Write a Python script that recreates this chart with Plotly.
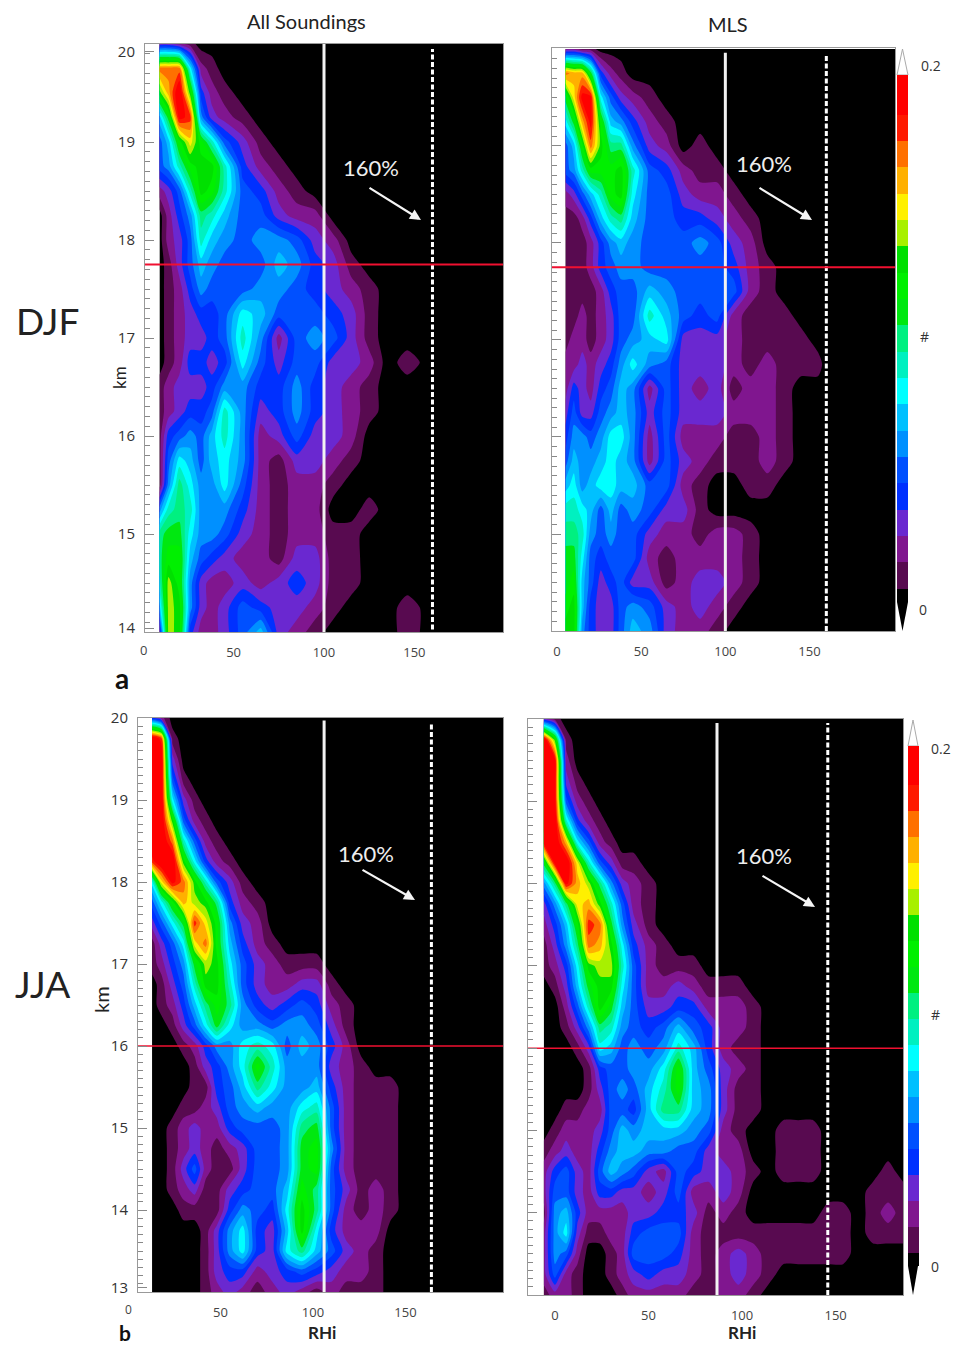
import plotly.graph_objects as go

W, H = 961, 1345
LEVEL_COLORS = ["#000000", "#580a50", "#80168f", "#6a28d0", "#0030ff", "#0050ff", "#0090ff", "#00c0ff",
                "#00ffff", "#00f0c0", "#00f080", "#00e810", "#00f000", "#00e000", "#a8f000", "#fff000",
                "#ffb000", "#ff7000", "#ff1a00", "#ff0000", "#ff0000"]

x_a = [9,14,20,26,32,38,45,55,65,75,85,95,105,115,125,135,146,160,199]
km_a = [20,19.75,19.5,19.25,19,18.75,18.5,18.25,18,17.75,17.5,17.25,17,16.75,16.5,16.25,16,15.75,15.5,15.25,15,14.75,14.5,14.25,14]
lev_a = [
[3,3,2,1,0],
[17,17,17,8,2,1,0],
[13,16,20,13,4,2,1,0],
[7,11,19,18,6,3,2,1,0],
[5,7,12,15,12,9,5,3,1,0],
[5,6,9,12,13,13,9,4,2,1,0],
[2,3,5,9,13,12,9,5,4,2,1,0],
[0,2,4,6,10,9,7,5,5,3,2,2,0],
[0,2,3,5,9,7,6,5,6,6,5,3,2,0],
[0,1,3,5,7,6,5,5,5,7,6,4,3,1,0],
[0,1,2,4,6,5,5,5,6,6,5,4,3,2,1,0],
[0,1,2,3,4,4,5,8,7,5,5,5,4,3,1,0],
[0,1,2,3,3,4,5,9,6,2,5,6,5,3,1,0],
[0,1,2,4,4,3,4,8,5,3,5,5,3,3,2,0,1,0],
[1,2,3,3,3,4,6,6,4,4,6,4,3,2,1,0],
[1,2,3,4,4,5,9,6,3,4,6,4,3,2,1,0],
[1,4,5,6,5,7,9,6,2,3,5,3,3,2,0],
[1,5,8,7,5,7,8,6,2,1,3,3,2,1,0],
[1,6,10,8,6,6,8,5,2,1,2,2,1,0],
[6,9,10,9,6,6,6,4,2,1,2,2,0,0,1,0],
[10,11,11,8,6,6,5,3,2,1,2,2,1,1,0],
[10,12,12,7,5,4,3,2,2,1,3,3,1,1,0],
[9,14,12,6,3,2,2,3,2,3,4,3,1,1,0],
[7,14,13,6,3,2,3,5,4,3,3,2,1,0,0,0,1,0],
[3,14,13,4,2,2,3,5,7,3,2,1,0,0,0,0,1,0],
]

x_b = [5,10,15,20,26,32,38,45,55,65,75,85,95,105,115,125,135,145,155,160,201]
km_b = km_a
lev_b = [
[2,2,1,1,0],
[17,16,16,11,4,2,1,0],
[11,15,19,19,8,5,3,2,1,0],
[8,11,16,19,12,7,6,4,2,1,0],
[5,7,12,17,13,10,10,6,3,2,0,1,0],
[5,6,9,12,12,12,13,9,5,4,2,1,1,0],
[2,3,5,7,9,12,13,8,5,5,3,2,2,1,0],
[1,1,2,4,7,9,10,7,5,5,4,4,3,2,1,0],
[1,1,1,2,4,6,7,6,5,5,5,6,5,3,2,0],
[1,1,1,2,4,5,6,6,5,5,5,5,5,4,2,1,0],
[1,1,1,1,2,4,5,5,7,6,5,5,5,5,2,1,0],
[1,1,2,1,2,3,5,5,9,7,5,4,5,2,1,1,1,0],
[1,2,2,1,2,3,5,6,7,8,3,3,3,2,1,1,1,1,0],
[2,2,3,2,3,4,6,8,6,5,3,3,3,2,1,2,1,1,1,0],
[2,4,3,2,4,5,7,6,2,5,3,2,3,1,2,2,1,0],
[3,5,3,3,5,6,7,6,3,5,3,3,3,2,2,2,1,0],
[4,6,6,5,6,8,8,6,2,5,2,2,2,1,1,2,1,0],
[5,7,6,6,7,8,7,6,2,5,3,2,1,1,1,2,1,0],
[7,8,6,7,8,8,7,7,5,5,2,1,0,0,1,1,0],
[9,9,8,7,5,7,5,6,5,3,3,1,0],
[10,10,9,6,5,6,5,5,3,2,2,1,2,2,1,0],
[11,11,8,5,4,5,5,5,2,1,2,2,2,2,1,0],
[11,12,7,5,3,4,5,3,3,1,2,3,3,2,1,0],
[12,13,7,4,3,3,5,6,5,3,2,3,2,1,0],
[13,13,6,4,3,3,5,7,6,3,2,2,1,0],
]

x_c = [13,18,24,30,36,42,48,55,62,70,78,86,94,102,110,118,126,134,142,150,203]
km_c = [20,19.75,19.5,19.25,19,18.75,18.5,18.25,18,17.75,17.5,17.25,17,16.75,16.5,16.25,16,15.75,15.5,15.25,15,14.75,14.5,14.25,14,13.75,13.5,13.25,13]
lev_c = [
[4,2,0],
[20,18,1,0],
[20,20,3,0],
[20,20,5,1,0],
[20,20,8,3,1,0],
[20,20,13,5,2,1,0],
[20,20,17,9,5,2,1,0],
[18,20,20,13,8,4,2,1,0],
[8,15,19,17,13,9,5,3,1,0],
[5,8,12,16,14,13,10,4,2,1,0],
[3,5,8,11,18,15,12,6,3,2,0],
[1,3,5,8,15,17,12,7,4,2,1,0],
[1,2,4,6,11,14,13,8,5,3,2,1,1,1,0],
[0,1,3,5,9,13,13,9,5,3,2,2,3,3,1,0],
[0,1,2,4,7,10,12,10,6,4,3,4,5,4,2,1,0],
[0,0,1,3,5,8,11,8,6,6,5,6,6,5,3,1,0],
[0,0,0,1,2,4,6,6,8,9,8,5,7,6,4,2,0],
[0,0,0,0,1,3,4,6,8,12,9,6,6,6,3,2,1,0],
[0,0,0,0,1,1,4,5,7,10,8,6,6,7,4,2,1,1,1,0],
[0,0,0,1,1,2,3,5,6,7,6,6,8,9,5,2,1,1,1,0],
[0,0,1,2,3,2,2,4,5,5,5,6,10,11,5,2,1,1,1,0],
[0,0,1,2,3,2,1,2,3,5,5,6,11,12,6,2,1,1,1,0],
[0,0,1,3,5,2,1,1,3,5,5,6,11,12,5,2,1,1,1,0],
[0,0,1,2,3,1,1,3,4,5,5,7,12,10,5,3,1,2,1,0],
[0,0,0,1,1,1,1,4,6,5,4,8,13,10,5,2,1,2,1,0],
[0,0,0,0,0,1,3,6,8,4,3,7,13,8,4,2,2,2,0],
[0,0,0,0,0,1,3,6,8,4,3,8,10,7,5,3,2,1,0],
[0,0,0,0,0,1,3,4,4,2,3,4,5,4,3,2,2,1,0],
[0,0,0,0,0,1,2,3,2,1,2,3,2,1,2,1,1,1,0],
]

x_d = [-6,0,6,12,18,24,30,36,42,50,58,66,74,82,90,98,106,114,122,130,138,146,154,162,170,178,186]
km_d = km_c
lev_d = [
[3,1,0],
[20,13,1,0],
[20,19,2,0],
[20,19,3,1,0],
[20,19,5,2,1,0],
[20,20,9,4,2,1,0],
[19,20,16,8,5,2,1,0],
[11,19,20,15,9,5,3,1,1,0],
[6,10,19,16,14,10,6,3,2,1,0],
[3,6,10,15,16,13,9,5,2,1,0],
[2,4,7,12,18,17,11,6,3,1,0],
[1,3,6,10,17,16,13,8,4,2,1,0],
[1,2,4,8,13,14,14,9,5,2,1,1,1,0],
[0,1,3,7,11,13,13,8,5,2,2,3,2,1,1,1,0],
[0,0,2,5,9,13,11,7,5,3,3,4,4,2,2,2,1,0],
[0,0,1,3,6,10,9,6,5,4,5,7,5,4,2,2,1,0],
[0,0,0,1,3,8,7,5,6,5,6,9,7,4,2,1,1,0],
[0,0,0,0,1,4,5,5,6,6,8,12,7,5,3,2,1,0],
[0,0,0,0,1,3,5,6,5,7,9,12,7,6,3,1,1,0],
[0,0,1,1,2,2,5,5,4,7,10,10,7,6,3,1,1,0],
[0,1,2,2,2,3,5,7,6,7,7,7,6,5,2,1,0,0,1,1,1,0],
[1,2,3,2,2,4,6,7,7,6,6,5,5,3,2,2,0,0,1,1,1,0],
[2,4,5,3,2,5,7,6,5,3,2,5,4,3,3,2,1,0,1,1,1,0,0,0,0,1,0],
[2,5,5,3,2,4,4,3,3,2,3,5,2,2,3,2,0,0,0,0,0,0,0,0,1,1,1],
[1,6,7,4,2,2,2,2,3,3,4,4,3,1,2,1,0,0,0,0,0,1,1,0,1,2,1],
[2,6,8,3,1,1,2,2,4,5,5,5,2,1,1,1,1,1,1,1,1,1,1,0,1,1,1],
[2,6,5,2,0,0,1,2,5,5,5,4,2,1,2,3,2,1,1,1,1,1,1,0,0,0,0],
[2,5,2,1,0,0,1,2,3,4,3,3,2,1,2,3,2,1,0],
[1,2,2,1,0,0,0,1,2,2,2,2,1,1,2,2,1,0],
]

rhi_solid = {"a": 100, "b": 100, "c": 106, "d": 86.6}
rhi_dash = {"a": 160, "b": 160, "c": 164, "d": 145.8}
red_km = {"a": 17.75, "b": 17.75, "c": 16, "d": 16}
red_width = {"a": 2, "b": 2, "c": 1.5, "d": 1.5}
x_ticks = [0, 50, 100, 150]

panels = [
    dict(k="a", x=x_a, km=km_a, lev=lev_a, frame=(145, 503, 44, 632), xr=(1, 199), yr=(14, 20),
         ytv=[14.04, 15, 16, 17, 18, 19, 19.92], ytt=["14", "15", "16", "17", "18", "19", "20"], line_km=(14, 20), dash_km=(13.95, 19.95)),
    dict(k="b", x=x_b, km=km_b, lev=lev_b, frame=(552, 895, 48, 631), xr=(-3, 200.8), yr=(14, 20.01),
         ytv=[14, 15, 16, 17, 18, 19, 20], ytt=None, line_km=(14, 19.96), dash_km=(14, 19.95)),
    dict(k="c", x=x_c, km=km_c, lev=lev_c, frame=(138, 503, 718, 1292), xr=(5.4, 202.7), yr=(13, 20),
         ytv=[13.05, 14, 15, 16, 17, 18, 19, 20], ytt=["13", "14", "15", "16", "17", "18", "19", "20"], line_km=(13, 19.97), dash_km=(13, 19.95)),
    dict(k="d", x=x_d, km=km_d, lev=lev_d, frame=(528, 903, 719, 1295), xr=(-14.4, 186), yr=(13, 20),
         ytv=[13, 14, 15, 16, 17, 18, 19, 20], ytt=None, line_km=(13, 19.95), dash_km=(13, 19.95)),
]

n = len(LEVEL_COLORS) - 1
scale = [[i / n, c] for i, c in enumerate(LEVEL_COLORS)]

def px(x): return x / W
def py(y): return 1 - y / H

fig = go.Figure()
layout = dict(width=W, height=H, margin=dict(l=0, r=0, t=0, b=0, autoexpand=False), paper_bgcolor="white",
              plot_bgcolor="white", showlegend=False, autosize=False, font=dict(family="Open Sans", color="#333333"))
anns = []
shapes = []
FONT = "Open Sans"

for i, p in enumerate(panels, start=1):
    sfx = "" if i == 1 else str(i)
    xa, ya = "x" + sfx, "y" + sfx
    x0, x1, y0, y1 = p["frame"]
    width = len(p["x"])
    z = [[v / 100 for v in (r + [0] * (width - len(r)))] for r in p["lev"]][::-1]
    cb = None
    if p["k"] in ("b", "d"):
        cb = dict(x=(897 if p["k"] == "b" else 908) / W, xanchor="left", thickness=11, thicknessmode="pixels",
                  len=527 if p["k"] == "b" else 520, lenmode="pixels",
                  y=py(75 if p["k"] == "b" else 746), yanchor="top", ypad=0, xpad=0, outlinewidth=0,
                  showticklabels=False, ticks="")
    fig.add_trace(go.Contour(
        x=p["x"], y=p["km"][::-1], z=z, xaxis=xa, yaxis=ya,
        colorscale=scale, autocontour=False,
        contours=dict(start=0.005, end=0.195, size=0.01, coloring="fill", showlines=False),
        line=dict(width=0, smoothing=0.7), showscale=cb is not None, colorbar=cb,
    ))
    s, dk = rhi_solid[p["k"]], rhi_dash[p["k"]]
    fig.add_trace(go.Scatter(x=[s, s], y=list(p["line_km"]), mode="lines", xaxis=xa, yaxis=ya,
                             line=dict(color="#f2f2f2", width=3)))
    fig.add_trace(go.Scatter(x=[dk, dk], y=list(p["dash_km"]), mode="lines", xaxis=xa, yaxis=ya,
                             line=dict(color="white", width=3, dash="5px,2.5px")))
    fig.add_trace(go.Scatter(x=list(p["xr"]), y=[red_km[p["k"]]] * 2, mode="lines", xaxis=xa, yaxis=ya,
                             line=dict(color="#f01030", width=red_width[p["k"]])))
    layout["xaxis" + sfx] = dict(domain=[px(x0), px(x1)], range=list(p["xr"]), anchor=ya, tickmode="array",
                                 tickvals=x_ticks, ticktext=[str(t) for t in x_ticks], ticks="", showgrid=False,
                                 zeroline=False, showline=True, mirror=True, linecolor="#999999", linewidth=1,
                                 tickfont=dict(family=FONT, size=13, color="#444444"), ticklabelstandoff=8)
    yax = dict(domain=[py(y1), py(y0)], range=list(p["yr"]), anchor=xa, tickmode="array", tickvals=p["ytv"],
               ticks="inside", ticklen=9, tickcolor="#888888", showgrid=False, zeroline=False, showline=True,
               mirror=True, linecolor="#999999", linewidth=1,
               minor=dict(tickmode="linear", tick0=13, dtick=0.1, ticks="inside", ticklen=5, tickcolor="#888888", showgrid=False))
    if p["ytt"]:
        yax.update(ticktext=p["ytt"], tickfont=dict(family=FONT, size=15, color="#333333"), ticklabelstandoff=6)
    else:
        yax.update(showticklabels=False)
    layout["yaxis" + sfx] = yax

def text(t, x, y, size, color="#222222", bold=False, angle=0, family="Lato"):
    anns.append(dict(text=f"<b>{t}</b>" if bold else t, x=px(x), y=py(y), xref="paper", yref="paper", showarrow=False,
                     xanchor="center", yanchor="middle", textangle=angle, borderpad=0,
                     font=dict(family=family, size=size, color=color)))

text("All Soundings", 306, 21, 20)
text("MLS", 728, 24, 20)
text("DJF", 47, 320, 37)
text("JJA", 42, 983, 37)
text("a", 122, 678, 28, "#111111", True)
text("b", 125, 1332, 21, "#111111", True)
text("km", 120, 378, 17, angle=-90)
text("km", 101, 1000, 20, angle=-90)
text("RHi", 322, 1332, 17, bold=True)
text("RHi", 742, 1332, 17, bold=True)
text("0", 128, 1309, 12, "#444444", family=FONT)
text("0", 143, 650, 13, "#444444", family=FONT)
for x, y in [(371, 167), (764, 163), (366, 853), (764, 855)]:
    text("160%", x, y, 22, "#eeeeee")
for (x_s, y_s, x_e, y_e) in [(368, 187, 421, 220), (758, 187, 812, 220), (361, 869, 415, 900), (761, 875, 815, 907)]:
    anns.append(dict(x=px(x_e), y=py(y_e), xref="paper", yref="paper", ax=x_s - x_e, ay=y_s - y_e, text="",
                     showarrow=True, arrowhead=2, arrowsize=1, arrowwidth=2.2, arrowcolor="#f5f5f5"))
for t, x, y in [("0.2", 931, 65), ("#", 924, 336), ("0", 923, 609), ("0.2", 941, 748), ("#", 935, 1014), ("0", 935, 1266)]:
    text(t, x, y, 14, "#333333", family=FONT)

for (xl, xr, t_top, t_base, b_base, b_tip) in [(897, 908, 49, 75, 602, 631), (908, 918, 720, 746, 1266, 1295)]:
    xm = (xl + xr) / 2
    shapes.append(dict(type="path", xref="paper", yref="paper",
                       path=f"M {px(xl)} {py(t_base)} L {px(xm)} {py(t_top)} L {px(xr)} {py(t_base)} Z",
                       fillcolor="white", line=dict(color="#aaaaaa", width=1)))
    shapes.append(dict(type="path", xref="paper", yref="paper",
                       path=f"M {px(xl)} {py(b_base)} L {px(xm)} {py(b_tip)} L {px(xr)} {py(b_base)} Z",
                       fillcolor="black", line=dict(color="black", width=0)))

fig.update_layout(**layout, annotations=anns, shapes=shapes)
fig.write_html("out.html", config={"displayModeBar": False},
               post_script="document.body.style.margin='0';document.documentElement.style.overflow='hidden';")
